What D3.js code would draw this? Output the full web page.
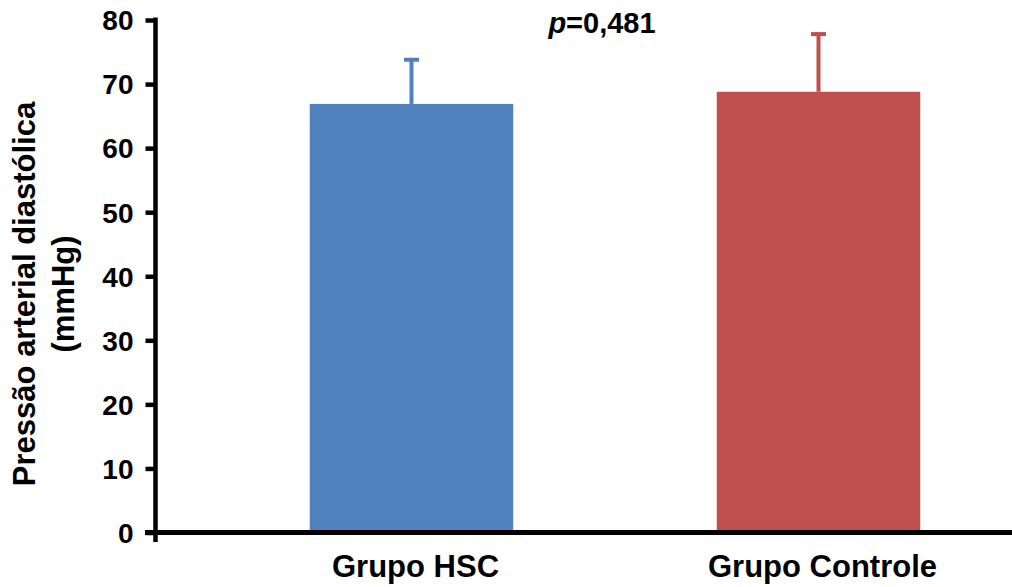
<!DOCTYPE html>
<html>
<head>
<meta charset="utf-8">
<script src="https://cdn.jsdelivr.net/npm/d3@7"></script>
<style>
  html, body { margin: 0; padding: 0; background: #fff; }
  svg { display: block; }
  text { font-family: "Liberation Sans", Arial, sans-serif; font-weight: bold; fill: #000; }
</style>
</head>
<body>
<svg id="chart" width="1012" height="587"></svg>
<script>
// Diastolic blood pressure by group (mean and standard deviation, mmHg)
const groups = ["Grupo HSC", "Grupo Controle"];
const means = [66.9, 68.8];
const sds = [6.9, 9.0];
const barColors = ["#4f81bd", "#c0504d"];
const yTicks = [0, 10, 20, 30, 40, 50, 60, 70, 80];
const pLabel = ["p", "=0,481"];
const yTitle = ["Pressão arterial diastólica", "(mmHg)"];

const svg = d3.select("#chart");

const y = d3.scaleLinear().domain([0, 80]).range([532.5, 20]);
const x = d3.scaleBand().domain(groups).range([208, 1022])
  .paddingInner(0.5).paddingOuter(0.25);

const axisX = 155.5;

// Bars
svg.selectAll("rect.bar").data(groups).join("rect")
  .attr("class", "bar")
  .attr("x", d => x(d))
  .attr("width", x.bandwidth())
  .attr("y", (d, i) => y(means[i]))
  .attr("height", (d, i) => y(0) - y(means[i]))
  .attr("fill", (d, i) => barColors[i]);

// Error bars (upper half)
const errG = svg.selectAll("g.err").data(groups).join("g").attr("class", "err");
errG.append("line")
  .attr("x1", d => x(d) + x.bandwidth() / 2)
  .attr("x2", d => x(d) + x.bandwidth() / 2)
  .attr("y1", (d, i) => y(means[i]))
  .attr("y2", (d, i) => y(means[i] + sds[i]))
  .attr("stroke", (d, i) => barColors[i])
  .attr("stroke-width", 4);
errG.append("line")
  .attr("x1", d => x(d) + x.bandwidth() / 2 - 7.5)
  .attr("x2", d => x(d) + x.bandwidth() / 2 + 7.5)
  .attr("y1", (d, i) => y(means[i] + sds[i]))
  .attr("y2", (d, i) => y(means[i] + sds[i]))
  .attr("stroke", (d, i) => barColors[i])
  .attr("stroke-width", 4);

// Y axis
const yAxis = d3.axisLeft(y).tickValues(yTicks).tickSize(10).tickPadding(12);
const gy = svg.append("g").attr("transform", `translate(${axisX},0)`).call(yAxis);
gy.select(".domain").remove();
gy.selectAll(".tick line").attr("stroke", "#000").attr("stroke-width", 4.5);
gy.selectAll(".tick text")
  .attr("font-size", 28)
  .attr("font-family", "Liberation Sans, Arial, sans-serif")
  .attr("font-weight", "bold")
  .attr("fill", "#000")
  .attr("dy", "0.35em");
svg.append("line")
  .attr("x1", axisX).attr("x2", axisX)
  .attr("y1", y(80) - 2.5).attr("y2", 542)
  .attr("stroke", "#000").attr("stroke-width", 4.5);

// X axis baseline
svg.append("line")
  .attr("x1", 145).attr("x2", 1012)
  .attr("y1", y(0)).attr("y2", y(0))
  .attr("stroke", "#000").attr("stroke-width", 5);

// Category labels
svg.selectAll("text.cat").data(groups).join("text")
  .attr("class", "cat")
  .attr("x", d => x(d) + x.bandwidth() / 2 + 4)
  .attr("y", 577)
  .attr("text-anchor", "middle")
  .attr("font-size", 31)
  .text(d => d);

// p-value annotation
const pt = svg.append("text")
  .attr("x", 602).attr("y", 33)
  .attr("text-anchor", "middle")
  .attr("font-size", 29);
pt.append("tspan").attr("font-style", "italic").text(pLabel[0]);
pt.append("tspan").text(pLabel[1]);

// Y axis title (two lines)
const yt = svg.append("text")
  .attr("transform", "translate(0,294) rotate(-90)")
  .attr("text-anchor", "middle")
  .attr("font-size", 31);
yt.append("tspan").attr("x", 0).attr("y", 35).text(yTitle[0]);
yt.append("tspan").attr("x", 0).attr("y", 74).text(yTitle[1]);
</script>
</body>
</html>
